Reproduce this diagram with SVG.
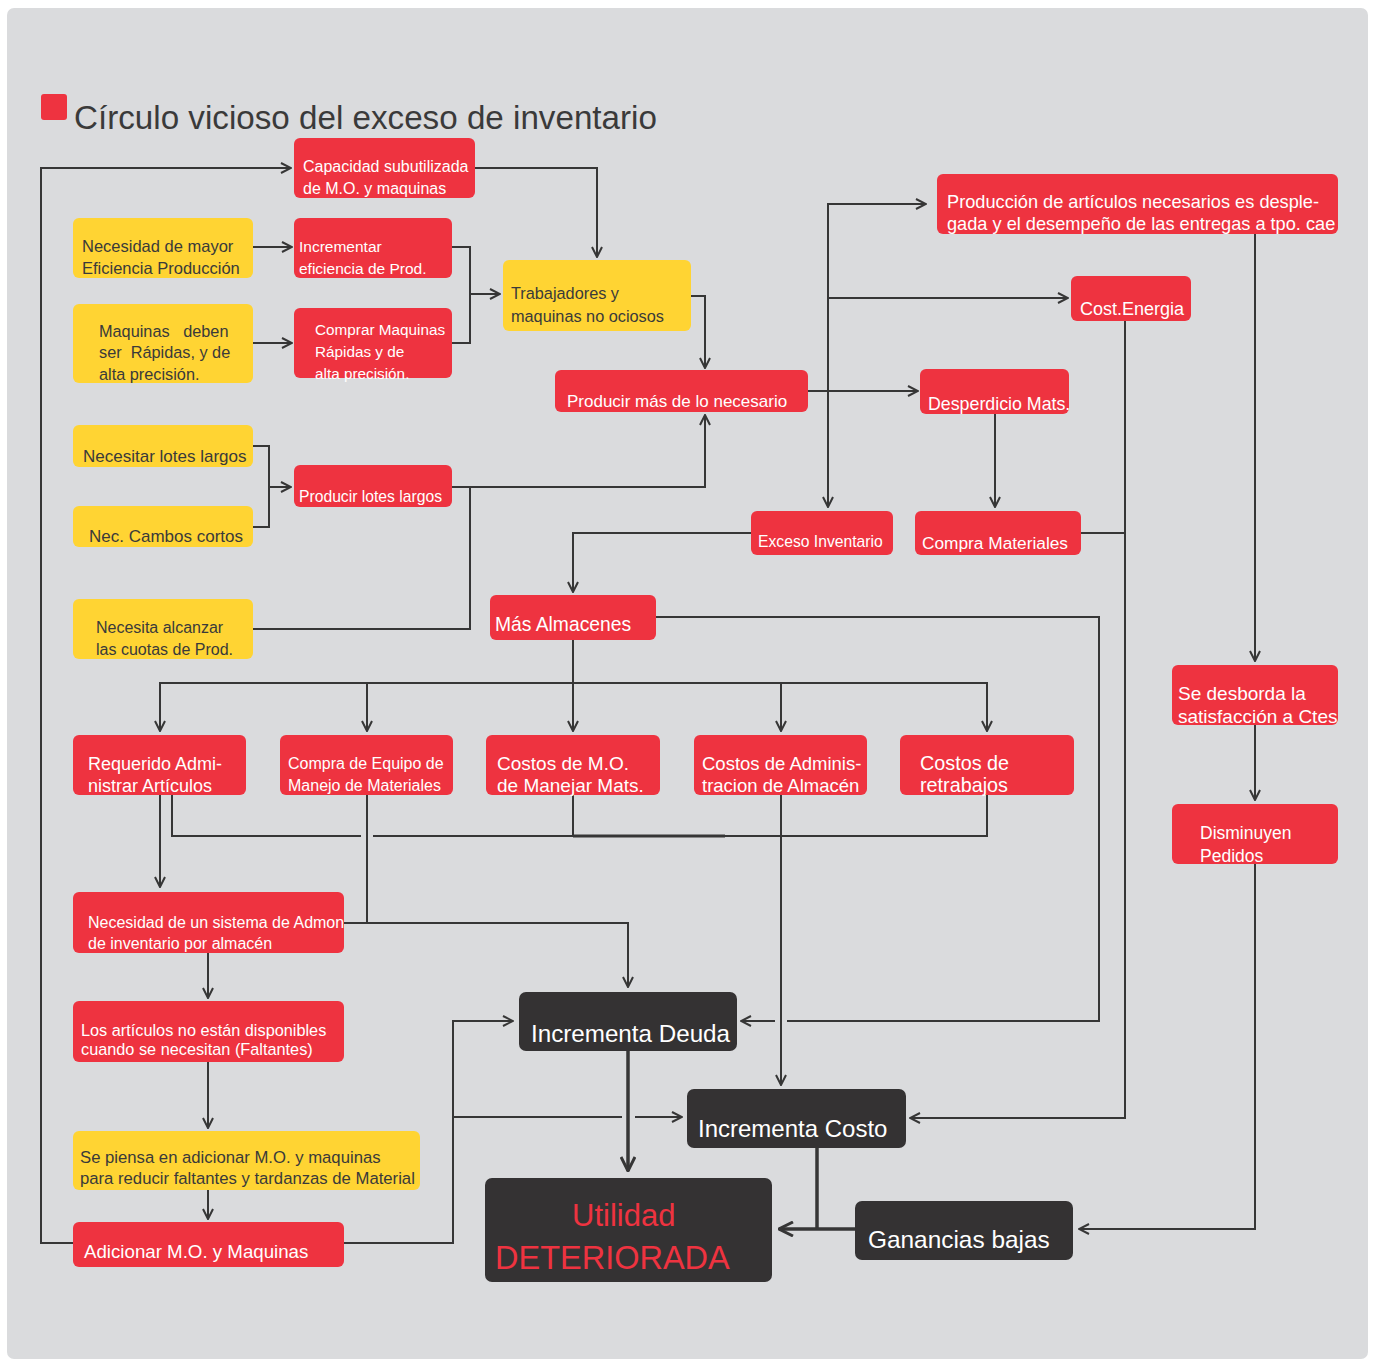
<svg xmlns="http://www.w3.org/2000/svg" width="1373" height="1359" viewBox="0 0 1373 1359">
<defs>
<marker id="a" viewBox="0 0 12 12" refX="11" refY="6" markerWidth="12" markerHeight="12" markerUnits="userSpaceOnUse" orient="auto">
<path d="M1,1 L11,6 L1,11" fill="none" stroke="#363636" stroke-width="2"/>
</marker>
<marker id="b" viewBox="0 0 16 16" refX="15" refY="8" markerWidth="16" markerHeight="16" markerUnits="userSpaceOnUse" orient="auto">
<path d="M1,1 L15,8 L1,15" fill="none" stroke="#363636" stroke-width="3"/>
</marker>
<style>
.r{fill:#ee3340}
.y{fill:#ffd433}
.k{fill:#343233}
text{font-family:"Liberation Sans",Arial,sans-serif}
.w{fill:#ffffff}
.d{fill:#3a3a3a}
.c path{fill:none;stroke:#363636;stroke-width:2}
.c path.t{stroke-width:3.5}
</style>
</defs>
<rect x="0" y="0" width="1373" height="1359" fill="#ffffff"/>
<rect x="7" y="8" width="1361" height="1351" rx="7" fill="#dadbdd"/>
<g id="title">
<rect x="41" y="94" width="26" height="26" rx="3" fill="#ee3340"/>
<text x="74" y="129" font-size="33.2" fill="#3a3a3a">Círculo vicioso del exceso de inventario</text>
</g>
<g class="c" id="connectors">
<path d="M73,1243 H41 V168 H291" marker-end="url(#a)"/>
<path d="M475,168 H597 V257" marker-end="url(#a)"/>
<path d="M253,247 H292" marker-end="url(#a)"/>
<path d="M253,343 H292" marker-end="url(#a)"/>
<path d="M452,247 H470 V343 H452"/>
<path d="M470,294 H500" marker-end="url(#a)"/>
<path d="M691,296 H705 V368" marker-end="url(#a)"/>
<path d="M808,391 H918" marker-end="url(#a)"/>
<path d="M926,204 H828 V507" marker-end="url(#a)"/>
<path d="M828,204 H926" marker-end="url(#a)"/>
<path d="M828,298 H1068" marker-end="url(#a)"/>
<path d="M253,446 H269 V527 H253"/>
<path d="M269,487 H291" marker-end="url(#a)"/>
<path d="M452,487 H705 V415" marker-end="url(#a)"/>
<path d="M253,629 H470 V487"/>
<path d="M995,414 V507" marker-end="url(#a)"/>
<path d="M751,533 H573 V592" marker-end="url(#a)"/>
<path d="M656,617 H1099 V1021 H787"/>
<path d="M775,1021 H741" marker-end="url(#a)"/>
<path d="M573,640 V731" marker-end="url(#a)"/>
<path d="M160,731 V683 H987 V731" marker-end="url(#a)"/>
<path d="M160,683 V731" marker-end="url(#a)"/>
<path d="M367,683 V731" marker-end="url(#a)"/>
<path d="M781,683 V731" marker-end="url(#a)"/>
<path d="M160,795 V887" marker-end="url(#a)"/>
<path d="M172,795 V836 H361"/>
<path d="M373,836 H987 V795"/>
<path d="M573,795 V836"/>
<path d="M573,836 H725" style="stroke-width:3"/>
<path d="M367,795 V923"/>
<path d="M344,923 H628 V987" marker-end="url(#a)"/>
<path d="M781,795 V1085" marker-end="url(#a)"/>
<path d="M208,953 V998" marker-end="url(#a)"/>
<path d="M208,1062 V1128" marker-end="url(#a)"/>
<path d="M208,1190 V1219" marker-end="url(#a)"/>
<path d="M344,1243 H453 V1021 H513" marker-end="url(#a)"/>
<path d="M453,1117 H622"/>
<path d="M635,1117 H682" marker-end="url(#a)"/>
<path class="t" d="M628,1051 V1171" marker-end="url(#b)"/>
<path class="t" d="M817,1148 V1229"/>
<path class="t" d="M855,1229 H779" marker-end="url(#b)"/>
<path d="M1125,321 V1118 H910" marker-end="url(#a)"/>
<path d="M1081,533 H1125"/>
<path d="M1255,234 V661" marker-end="url(#a)"/>
<path d="M1255,725 V800" marker-end="url(#a)"/>
<path d="M1255,864 V1229 H1079" marker-end="url(#a)"/>
</g>
<g id="capacidad"><rect class="r" x="294" y="138" width="181" height="60" rx="6"/>
<text class="w" font-size="16"><tspan x="303" y="172">Capacidad subutilizada</tspan><tspan x="303" y="194">de M.O. y maquinas</tspan></text></g>
<g id="necesidad-mayor"><rect class="y" x="73" y="218" width="180" height="60" rx="6"/>
<text class="d" font-size="16.5"><tspan x="82" y="252">Necesidad de mayor</tspan><tspan x="82" y="274">Eficiencia Producción</tspan></text></g>
<g id="incrementar"><rect class="r" x="294" y="218" width="158" height="60" rx="6"/>
<text class="w" font-size="15.5"><tspan x="299" y="252">Incrementar</tspan><tspan x="299" y="274">eficiencia de Prod.</tspan></text></g>
<g id="maquinas-deben"><rect class="y" x="73" y="304" width="180" height="79" rx="6"/>
<text class="d" font-size="16.3" xml:space="preserve"><tspan x="99" y="337">Maquinas   deben</tspan><tspan x="99" y="358">ser  Rápidas, y de</tspan><tspan x="99" y="380">alta precisión.</tspan></text></g>
<g id="comprar"><rect class="r" x="294" y="308" width="158" height="70" rx="6"/>
<text class="w" font-size="15.3"><tspan x="315" y="335">Comprar Maquinas</tspan><tspan x="315" y="357">Rápidas y de</tspan><tspan x="315" y="379">alta precisión.</tspan></text></g>
<g id="trabajadores"><rect class="y" x="503" y="260" width="188" height="71" rx="6"/>
<text class="d" font-size="16.3"><tspan x="511" y="299">Trabajadores y</tspan><tspan x="511" y="322">maquinas no ociosos</tspan></text></g>
<g id="producir-mas"><rect class="r" x="555" y="370" width="253" height="42" rx="6"/>
<text class="w" font-size="17" x="567" y="407">Producir más de lo necesario</text></g>
<g id="produccion-articulos"><rect class="r" x="937" y="174" width="401" height="60" rx="6"/>
<text class="w" font-size="18.2"><tspan x="947" y="208">Producción de artículos necesarios es desple-</tspan><tspan x="947" y="230">gada y el desempeño de las entregas a tpo. cae</tspan></text></g>
<g id="cost-energia"><rect class="r" x="1071" y="276" width="120" height="45" rx="6"/>
<text class="w" font-size="18" x="1080" y="315">Cost.Energia</text></g>
<g id="desperdicio"><rect class="r" x="920" y="369" width="149" height="45" rx="6"/>
<text class="w" font-size="17.8" x="928" y="410">Desperdicio Mats.</text></g>
<g id="necesitar-lotes"><rect class="y" x="73" y="425" width="180" height="42" rx="6"/>
<text class="d" font-size="17" x="83" y="462">Necesitar lotes largos</text></g>
<g id="nec-cambios"><rect class="y" x="73" y="506" width="180" height="41" rx="6"/>
<text class="d" font-size="17" x="89" y="542">Nec. Cambos cortos</text></g>
<g id="producir-lotes"><rect class="r" x="294" y="465" width="158" height="42" rx="6"/>
<text class="w" font-size="15.7" x="299" y="502">Producir lotes largos</text></g>
<g id="necesita-cuotas"><rect class="y" x="73" y="599" width="180" height="60" rx="6"/>
<text class="d" font-size="16"><tspan x="96" y="633">Necesita alcanzar</tspan><tspan x="96" y="655">las cuotas de Prod.</tspan></text></g>
<g id="exceso-inventario"><rect class="r" x="751" y="511" width="142" height="44" rx="6"/>
<text class="w" font-size="15.7" x="758" y="547">Exceso Inventario</text></g>
<g id="compra-materiales"><rect class="r" x="915" y="511" width="166" height="44" rx="6"/>
<text class="w" font-size="17.3" x="922" y="549">Compra Materiales</text></g>
<g id="mas-almacenes"><rect class="r" x="490" y="595" width="166" height="45" rx="6"/>
<text class="w" font-size="19.3" x="495" y="631">Más Almacenes</text></g>
<g id="requerido"><rect class="r" x="73" y="735" width="173" height="60" rx="6"/>
<text class="w" font-size="18"><tspan x="88" y="770">Requerido Admi-</tspan><tspan x="88" y="792">nistrar Artículos</tspan></text></g>
<g id="compra-equipo"><rect class="r" x="280" y="735" width="173" height="60" rx="6"/>
<text class="w" font-size="16"><tspan x="288" y="769">Compra de Equipo de</tspan><tspan x="288" y="791">Manejo de Materiales</tspan></text></g>
<g id="costos-mo"><rect class="r" x="486" y="735" width="174" height="60" rx="6"/>
<text class="w" font-size="19"><tspan x="497" y="770">Costos de M.O.</tspan><tspan x="497" y="792">de Manejar Mats.</tspan></text></g>
<g id="costos-admin"><rect class="r" x="694" y="735" width="173" height="60" rx="6"/>
<text class="w" font-size="18.5"><tspan x="702" y="770">Costos de Adminis-</tspan><tspan x="702" y="792">tracion de Almacén</tspan></text></g>
<g id="costos-retrabajos"><rect class="r" x="900" y="735" width="174" height="60" rx="6"/>
<text class="w" font-size="19.8"><tspan x="920" y="770">Costos de</tspan><tspan x="920" y="792">retrabajos</tspan></text></g>
<g id="se-desborda"><rect class="r" x="1172" y="665" width="166" height="60" rx="6"/>
<text class="w" font-size="19"><tspan x="1178" y="700">Se desborda la</tspan><tspan x="1178" y="723">satisfacción a Ctes</tspan></text></g>
<g id="disminuyen"><rect class="r" x="1172" y="804" width="166" height="60" rx="6"/>
<text class="w" font-size="17.5"><tspan x="1200" y="839">Disminuyen</tspan><tspan x="1200" y="862">Pedidos</tspan></text></g>
<g id="necesidad-sistema"><rect class="r" x="73" y="892" width="271" height="61" rx="6"/>
<text class="w" font-size="16"><tspan x="88" y="928">Necesidad de un sistema de Admon</tspan><tspan x="88" y="949">de inventario por almacén</tspan></text></g>
<g id="faltantes"><rect class="r" x="73" y="1001" width="271" height="61" rx="6"/>
<text class="w" font-size="16.3"><tspan x="81" y="1036">Los artículos no están disponibles</tspan><tspan x="81" y="1055">cuando se necesitan (Faltantes)</tspan></text></g>
<g id="se-piensa"><rect class="y" x="73" y="1131" width="347" height="59" rx="6"/>
<text class="d" font-size="16.7"><tspan x="80" y="1163">Se piensa en adicionar M.O. y maquinas</tspan><tspan x="80" y="1184">para reducir faltantes y tardanzas de Material</tspan></text></g>
<g id="adicionar"><rect class="r" x="73" y="1222" width="271" height="45" rx="6"/>
<text class="w" font-size="18.7" x="84" y="1258">Adicionar M.O. y Maquinas</text></g>
<g id="incrementa-deuda"><rect class="k" x="519" y="992" width="218" height="59" rx="7"/>
<text class="w" font-size="24.2" x="531" y="1042">Incrementa Deuda</text></g>
<g id="incrementa-costo"><rect class="k" x="687" y="1089" width="219" height="59" rx="7"/>
<text class="w" font-size="24" x="698" y="1137">Incrementa Costo</text></g>
<g id="utilidad"><rect class="k" x="485" y="1178" width="287" height="104" rx="7"/>
<text fill="#ee3340" font-size="31"><tspan x="572" y="1226">Utilidad</tspan></text>
<text fill="#ee3340" font-size="32.5"><tspan x="495" y="1269">DETERIORADA</tspan></text></g>
<g id="ganancias"><rect class="k" x="855" y="1201" width="218" height="59" rx="7"/>
<text class="w" font-size="24.4" x="868" y="1248">Ganancias bajas</text></g>
</svg>
